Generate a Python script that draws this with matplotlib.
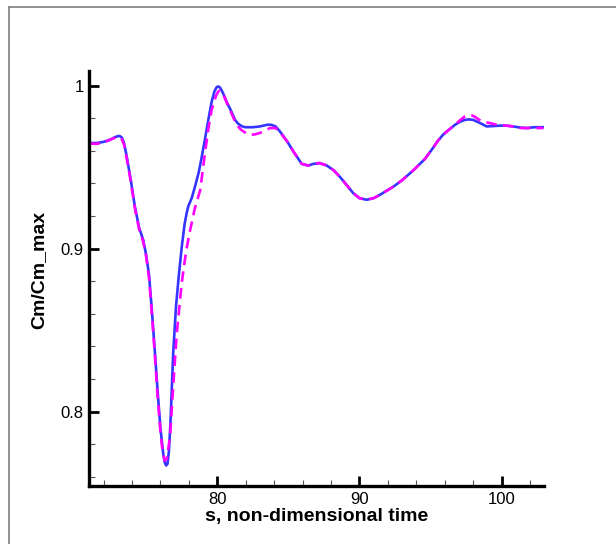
import matplotlib
matplotlib.use('Agg')
import matplotlib.pyplot as plt
from matplotlib.lines import Line2D
from matplotlib.ticker import MultipleLocator, FuncFormatter

plt.rcParams['font.family'] = ['Liberation Sans', 'DejaVu Sans']

# Solid blue curve (s, Cm/Cm_max)
s_solid = [71.0, 71.5, 72.0, 72.5, 72.8, 73.0, 73.15, 73.3, 73.45, 73.6, 73.9, 74.2,
           74.5, 74.8, 75.0, 75.2, 75.4, 75.6, 75.8, 76.0, 76.2, 76.3, 76.4, 76.5,
           76.6, 76.7, 76.9, 77.1, 77.3, 77.5, 77.7, 77.85, 77.96, 78.2, 78.43, 78.7,
           78.9, 79.15, 79.37, 79.6, 79.8, 79.95, 80.07, 80.2, 80.4, 80.66, 81.0,
           81.25, 81.45, 81.7, 81.95, 82.5, 83.0, 83.5, 83.8, 84.1, 84.4, 84.9, 85.4,
           85.94, 86.4, 86.75, 87.2, 87.7, 88.2, 88.63, 89.1, 89.57, 90.0, 90.5,
           91.0, 91.44, 92.0, 92.38, 93.0, 93.78, 94.6, 95.19, 95.5, 95.89, 96.3,
           96.72, 97.1, 97.42, 97.7, 98.0, 98.5, 98.94, 99.4, 99.88, 100.3, 100.8,
           101.3, 101.76, 102.3, 102.93]
cm_solid = [0.9648, 0.9648, 0.9655, 0.967, 0.9684, 0.969, 0.9691, 0.968, 0.9645,
            0.958, 0.943, 0.926, 0.913, 0.905, 0.896, 0.884, 0.862, 0.838, 0.813,
            0.790, 0.774, 0.769, 0.767, 0.768, 0.776, 0.792, 0.836, 0.865, 0.884,
            0.901, 0.915, 0.922, 0.926, 0.931, 0.938, 0.947, 0.956, 0.968, 0.979,
            0.990, 0.9965, 0.9990, 0.9995, 0.9988, 0.9955, 0.990, 0.984, 0.979,
            0.9768, 0.9752, 0.9745, 0.9745, 0.975, 0.976, 0.976, 0.975, 0.972, 0.966,
            0.959, 0.952, 0.951, 0.952, 0.9525, 0.951, 0.948, 0.944, 0.939, 0.934,
            0.931, 0.930, 0.931, 0.933, 0.936, 0.938, 0.942, 0.948, 0.955, 0.962,
            0.966, 0.970, 0.973, 0.976, 0.978, 0.979, 0.9793, 0.979, 0.977, 0.975,
            0.9752, 0.9755, 0.9755, 0.975, 0.9743, 0.974, 0.9745, 0.9745]

# Dashed magenta curve
s_dash = [71.0, 71.5, 72.0, 72.5, 72.8, 73.0, 73.15, 73.3, 73.45, 73.6, 73.9, 74.2,
          74.5, 74.8, 75.0, 75.2, 75.4, 75.6, 75.8, 76.0, 76.15, 76.3, 76.45, 76.6,
          76.7, 76.91, 77.15, 77.5, 77.8, 78.08, 78.43, 78.8, 79.14, 79.4, 79.6,
          79.9, 80.05, 80.19, 80.35, 80.5, 80.9, 81.3, 81.6, 81.83, 82.18, 82.6,
          83.0, 83.4, 83.7, 84.1, 84.4, 84.9, 85.4, 85.94, 86.4, 86.75, 87.2, 87.7,
          88.2, 88.63, 89.1, 89.57, 90.0, 90.5, 91.0, 91.44, 92.0, 92.38, 93.0,
          93.78, 94.6, 95.19, 95.5, 95.89, 96.3, 96.72, 97.1, 97.4, 97.65, 97.9,
          98.1, 98.6, 99.18, 99.7, 100.3, 100.8, 101.3, 101.8, 102.3, 102.93]
cm_dash = [0.9645, 0.9643, 0.965, 0.967, 0.968, 0.9685, 0.9686, 0.967, 0.9635,
           0.957, 0.942, 0.925, 0.912, 0.904, 0.895, 0.882, 0.860, 0.836, 0.810,
           0.788, 0.776, 0.770, 0.771, 0.780, 0.788, 0.817, 0.848, 0.879, 0.898,
           0.911, 0.925, 0.936, 0.959, 0.975, 0.985, 0.9935, 0.9962, 0.997, 0.9958,
           0.993, 0.985, 0.977, 0.9735, 0.972, 0.970, 0.970, 0.971, 0.9725, 0.974,
           0.974, 0.9715, 0.966, 0.959, 0.952, 0.951, 0.952, 0.9525, 0.951, 0.948,
           0.944, 0.939, 0.934, 0.931, 0.930, 0.931, 0.933, 0.936, 0.938, 0.942,
           0.948, 0.955, 0.962, 0.966, 0.970, 0.973, 0.976, 0.979, 0.981, 0.982,
           0.9818, 0.981, 0.978, 0.977, 0.976, 0.9755, 0.975, 0.974, 0.974, 0.974,
           0.974]

fig = plt.figure(figsize=(6.16, 5.44), dpi=100)
ax = fig.add_axes([0.145, 0.1066, 0.7386, 0.7629])

ax.plot(s_solid, cm_solid, color='#3535ff', lw=1.9, solid_joinstyle='round')
ax.plot(s_dash, cm_dash, color='#ff00ff', lw=1.9, dashes=(4, 2.4))

ax.set_xlim(71, 103)
ax.set_ylim(0.7544, 1.009)

ax.spines['top'].set_visible(False)
ax.spines['right'].set_visible(False)
for side in ('left', 'bottom'):
    ax.spines[side].set_linewidth(2.4)

ax.xaxis.set_major_locator(MultipleLocator(10))
ax.xaxis.set_minor_locator(MultipleLocator(2))
ax.yaxis.set_major_locator(MultipleLocator(0.1))
ax.yaxis.set_minor_locator(MultipleLocator(0.02))
ax.yaxis.set_major_formatter(FuncFormatter(lambda v, p: '1' if abs(v - 1) < 1e-9 else f'{v:.1f}'))

ax.tick_params(which='major', direction='in', length=7.2, width=2.0, labelsize=12, pad=4)
ax.tick_params(which='minor', direction='in', length=4, width=0.8, color='#555555')

ax.set_xlabel('s, non-dimensional time', fontsize=14, fontweight='bold', labelpad=1)
ax.set_ylabel('Cm/Cm_max', fontsize=14, fontweight='bold')
ax.yaxis.set_label_coords(-0.093, 0.52)

# gray frame around the plot area
fx = 9 / 616
fy = 1 - 6.5 / 544
fig.add_artist(Line2D([fx, 1], [fy, fy], transform=fig.transFigure, color='#888888', lw=1.3))
fig.add_artist(Line2D([fx, fx], [0, fy], transform=fig.transFigure, color='#888888', lw=1.3))

fig.savefig('out.png', dpi=100)
